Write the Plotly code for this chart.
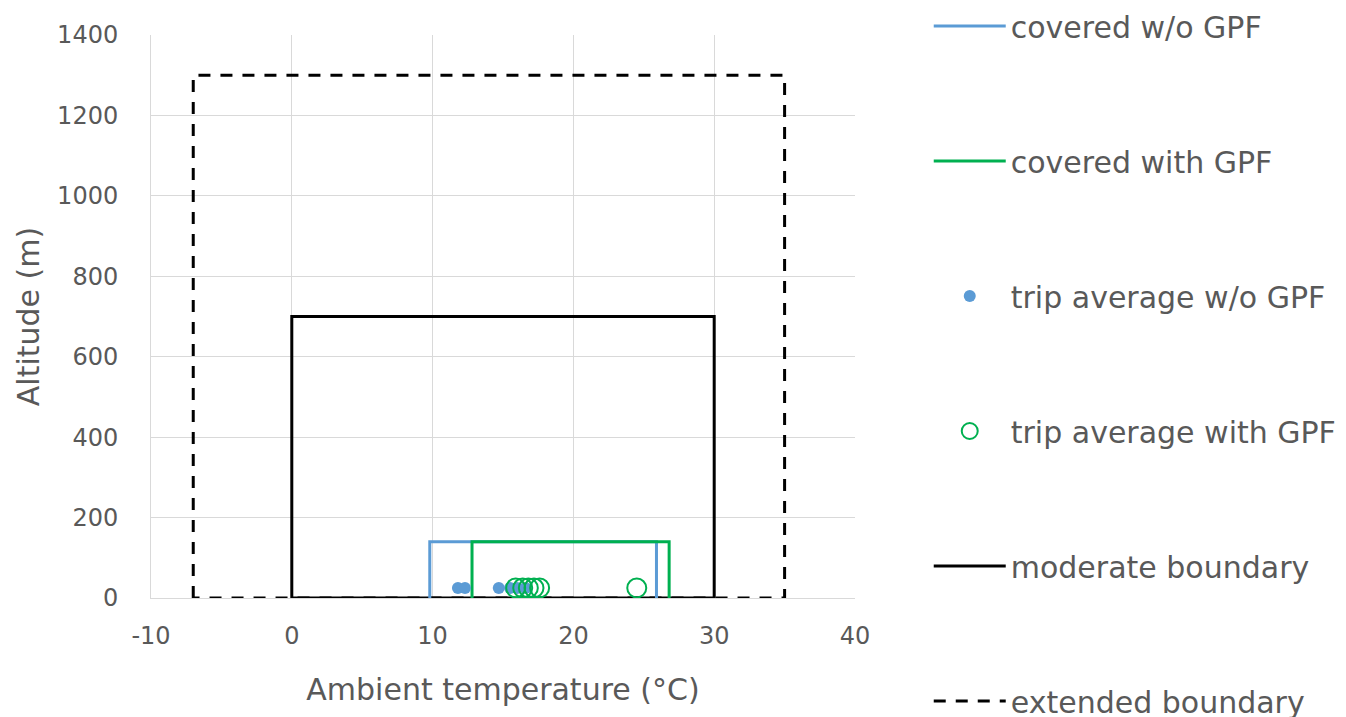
import plotly.graph_objects as go

# Data
cov_wo_x = [9.8, 9.8, 25.9, 25.9]
cov_wo_y = [0, 140, 140, 0]
cov_with_x = [12.8, 12.8, 26.8, 26.8]
cov_with_y = [0, 140, 140, 0]
trip_wo_x = [11.8, 12.3, 14.7, 15.5, 16.0, 16.6]
trip_wo_y = [25, 25, 25, 25, 25, 25]
trip_with_x = [15.9, 16.4, 16.8, 17.2, 17.6, 24.5]
trip_with_y = [25, 25, 25, 25, 25, 25]
mod_x = [0, 0, 30, 30, 0]
mod_y = [0, 700, 700, 0, 0]
ext_x = [-7, -7, 35, 35, -7]
ext_y = [0, 1300, 1300, 0, 0]

x_ticks = [-10, 0, 10, 20, 30, 40]
x_ticktext = ["-10", "0", "10", "20", "30", "40"]
y_ticks = [0, 200, 400, 600, 800, 1000, 1200, 1400]

FONT = "DejaVu Sans, sans-serif"
GREY = "#595959"

fig = go.Figure()
fig.add_trace(go.Scatter(x=ext_x, y=ext_y, mode="lines", name="extended boundary",
                         line=dict(color="black", width=3, dash="12px,10px"),
                         legendrank=6, legendgroup="f"))
fig.add_trace(go.Scatter(x=mod_x, y=mod_y, mode="lines", name="moderate boundary",
                         line=dict(color="black", width=3), legendrank=5, legendgroup="e"))
fig.add_trace(go.Scatter(x=cov_wo_x, y=cov_wo_y, mode="lines", name="covered w/o GPF",
                         line=dict(color="#5b9bd5", width=3), legendrank=1, legendgroup="a"))
fig.add_trace(go.Scatter(x=cov_with_x, y=cov_with_y, mode="lines", name="covered with GPF",
                         line=dict(color="#00b050", width=3), legendrank=2, legendgroup="b"))
fig.add_trace(go.Scatter(x=trip_wo_x, y=trip_wo_y, mode="markers", name="trip average w/o GPF",
                         marker=dict(color="#5b9bd5", size=12), legendrank=3, legendgroup="c"))
fig.add_trace(go.Scatter(x=trip_with_x, y=trip_with_y, mode="markers", name="trip average with GPF",
                         marker=dict(color="#00b050", size=19, symbol="circle-open",
                                     line=dict(color="#00b050", width=2)),
                         legendrank=4, legendgroup="d"))

fig.update_layout(
    width=1346, height=717,
    margin=dict(l=151, r=491, t=35, b=119, autoexpand=False),
    plot_bgcolor="white", paper_bgcolor="white",
    font=dict(family=FONT, color=GREY, size=24),
    showlegend=True,
    legend=dict(xref="container", yref="container", x=0.690, xanchor="left",
                y=1.0, yanchor="top",
                font=dict(size=30, color=GREY, family=FONT), tracegroupgap=93,
                itemwidth=72, bgcolor="rgba(0,0,0,0)", maxheight=900),
)
fig.update_xaxes(range=[-10, 40], tickvals=x_ticks, ticktext=x_ticktext, showgrid=True,
                 gridcolor="#d9d9d9", gridwidth=1, zeroline=False, showline=True,
                 linecolor="#d9d9d9",
                 title=dict(text="Ambient temperature (°C)", font=dict(size=30, color=GREY),
                            standoff=30),
                 tickfont=dict(size=24, color=GREY), ticks="", ticklabelstandoff=16)
fig.update_yaxes(range=[0, 1400], tickvals=y_ticks, showgrid=True, gridcolor="#d9d9d9",
                 gridwidth=1, zeroline=False, showline=True, linecolor="#d9d9d9",
                 title=dict(text="Altitude (m)", font=dict(size=30, color=GREY),
                            standoff=8),
                 tickfont=dict(size=24, color=GREY), ticks="", ticklabelstandoff=27)

fig.write_html("out.html")
